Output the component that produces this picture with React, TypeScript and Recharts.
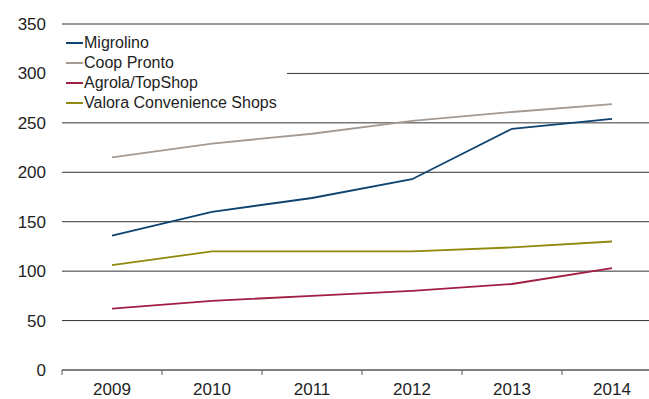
import React from 'react';
import { LineChart, Line, XAxis, YAxis, CartesianGrid } from 'recharts';

const YEARS = ['2009', '2010', '2011', '2012', '2013', '2014'];
const MIGROLINO = [136, 160, 174, 193, 244, 254];
const COOP_PRONTO = [215, 229, 239, 252, 261, 269];
const AGROLA = [62, 70, 75, 80, 87, 103];
const VALORA = [106, 120, 120, 120, 124, 130];
const Y_TICKS = [0, 50, 100, 150, 200, 250, 300, 350];

const SERIES = [
  { key: 'migrolino', name: 'Migrolino', color: '#0e426f' },
  { key: 'coop', name: 'Coop Pronto', color: '#a39a93' },
  { key: 'agrola', name: 'Agrola/TopShop', color: '#a11d42' },
  { key: 'valora', name: 'Valora Convenience Shops', color: '#8f8a0e' },
];

const data = YEARS.map((year, i) => ({
  idx: i,
  year,
  migrolino: MIGROLINO[i],
  coop: COOP_PRONTO[i],
  agrola: AGROLA[i],
  valora: VALORA[i],
}));

// labels at category centres, small tick marks at the category edges
const X_TICKS = [-0.5, ...YEARS.flatMap((_, i) => [i, i + 0.5])];

const FONT = '"Liberation Sans", Arial, sans-serif';
const TEXT = '#1e1e1e';

const XTick = (props: any) => {
  const { x, y, payload } = props;
  const v = payload.value;
  if (Number.isInteger(v)) {
    return (
      <text x={x} y={y + 25} textAnchor="middle" fill={TEXT} fontSize={17} fontFamily={FONT}>
        {YEARS[v]}
      </text>
    );
  }
  return <line x1={x} x2={x} y1={y} y2={y + 5} stroke="#555" strokeWidth={1} />;
};

// legend sits over the plot with a white box, hiding part of the 300 gridline
const LegendBox = () => (
  <div
    style={{
      position: 'absolute',
      top: 33,
      left: 62,
      background: '#fff',
      width: 225,
      fontFamily: FONT,
      fontSize: 16,
      color: TEXT,
    }}
  >
    {SERIES.map((s) => (
      <div key={s.key} style={{ display: 'flex', alignItems: 'center', height: 20 }}>
        <span style={{ display: 'inline-block', width: 17, height: 2, background: s.color, marginLeft: 4, marginRight: 1 }} />
        <span>{s.name}</span>
      </div>
    ))}
  </div>
);

export default function App() {
  return (
    <div style={{ position: 'fixed', top: 0, left: 0, width: 649, height: 399, overflow: 'hidden', background: '#fff' }}>
      <LineChart width={680} height={399} data={data} margin={{ top: 24, right: 18, bottom: 0, left: 0 }}>
        <CartesianGrid vertical={false} stroke="#333" strokeWidth={1} />
        <XAxis
          dataKey="idx"
          type="number"
          domain={[-0.5, 5.5]}
          ticks={X_TICKS}
          interval={0}
          tick={<XTick />}
          tickLine={false}
          tickSize={0}
          tickMargin={0}
          height={29}
          axisLine={{ stroke: '#666' }}
        />
        <YAxis
          domain={[0, 350]}
          ticks={Y_TICKS}
          interval={0}
          width={62}
          axisLine={false}
          tickLine={false}
          tickSize={0}
          tickMargin={16}
          tick={{ fill: TEXT, fontSize: 17, fontFamily: FONT }}
        />
        {SERIES.map((s) => (
          <Line
            key={s.key}
            dataKey={s.key}
            name={s.name}
            stroke={s.color}
            strokeWidth={1.8}
            dot={false}
            type="linear"
            isAnimationActive={false}
          />
        ))}
      </LineChart>
      <LegendBox />
    </div>
  );
}
